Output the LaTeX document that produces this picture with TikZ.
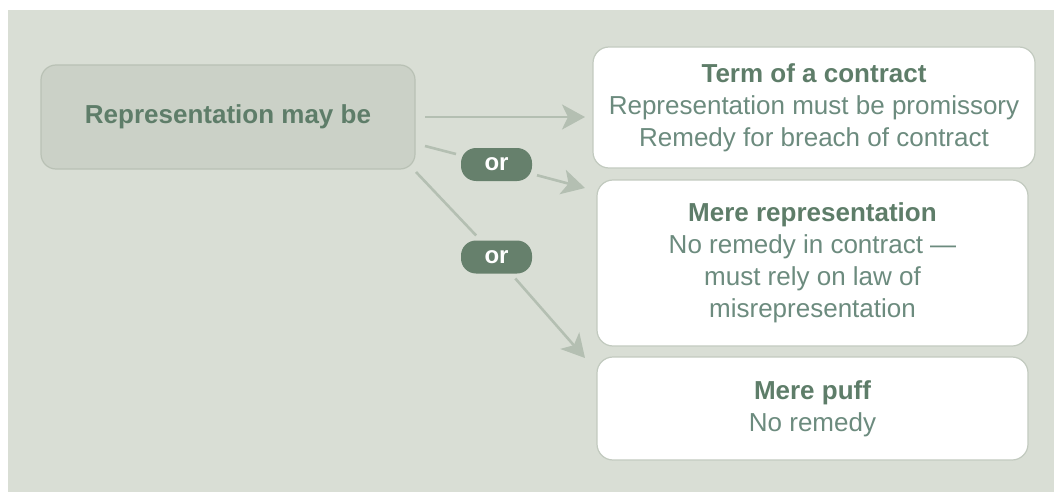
\documentclass[tikz,border=0pt]{standalone}
\usepackage{fontspec}
\setmainfont{Liberation Sans}
\usetikzlibrary{arrows.meta}

\definecolor{panelbg}{HTML}{D9DED5}
\definecolor{srcfill}{HTML}{CBD1C7}
\definecolor{srcline}{HTML}{B9C1B5}
\definecolor{boxline}{HTML}{C2CABF}
\definecolor{linkcol}{HTML}{B4BFB2}
\definecolor{pillcol}{HTML}{66806C}
\definecolor{titlecol}{HTML}{5E7D69}
\definecolor{bodycol}{HTML}{6C8B7E}

\tikzset{
  srcbox/.style={draw=srcline, fill=srcfill, line width=1.2pt, rounded corners=15pt,
    inner sep=0pt, minimum width=374pt, minimum height=104pt,
    text=titlecol, font=\fontsize{26}{32}\selectfont\bfseries},
  outbox/.style={draw=boxline, fill=white, line width=1.2pt, rounded corners=16pt,
    inner sep=0pt, align=center, text=bodycol, font=\fontsize{26}{32}\selectfont},
  orpill/.style={fill=pillcol, rounded corners=15pt, inner sep=0pt, outer sep=5pt,
    minimum width=71pt, minimum height=33pt, text=white,
    font=\fontsize{24}{28}\selectfont\bfseries},
  link/.style={draw=linkcol, line width=2.6pt},
  linkarrow/.style={link, -{Stealth[length=23pt, width=25pt, inset=6pt]}},
}
\newcommand{\boxtitle}[1]{\textcolor{titlecol}{\bfseries #1}}

\begin{document}
\begin{tikzpicture}[x=1pt, y=-1pt]
  \useasboundingbox (0,0) rectangle (1054,492);
  \fill[panelbg] (8,10) rectangle (1054,492);

  % source and outcome boxes
  \node[srcbox] (src) at (228,117) {Representation may be};
  \node[outbox, minimum width=442pt, minimum height=121pt] (term) at (814,107.5)
    {\boxtitle{Term of a contract}\\Representation must be promissory\\Remedy for breach of contract};
  \node[outbox, minimum width=431pt, minimum height=166pt] (mere) at (812.5,263)
    {\boxtitle{Mere representation}\\No remedy in contract ---\\must rely on law of\\misrepresentation};
  \node[outbox, minimum width=431pt, minimum height=103pt] (puff) at (812.5,408.5)
    {\boxtitle{Mere puff}\\No remedy};

  % "or" labels
  \node[orpill] (or1) at (496.5,164.5) {or};
  \node[orpill] (or2) at (496.5,257) {or};

  % connector ends
  \coordinate (s1) at (425,117);
  \coordinate (t1) at (585,117);
  \coordinate (s2) at (425,146);
  \coordinate (t2) at (585,188);
  \coordinate (s3) at (416,172);
  \coordinate (t3) at (585,358);

  % connectors
  \draw[linkarrow] (s1) -- (t1);
  \draw[link] (s2) -- (or1);
  \draw[linkarrow] (or1) -- (t2);
  \draw[link] (s3) -- (or2);
  \draw[linkarrow] (or2) -- (t3);
\end{tikzpicture}
\end{document}
